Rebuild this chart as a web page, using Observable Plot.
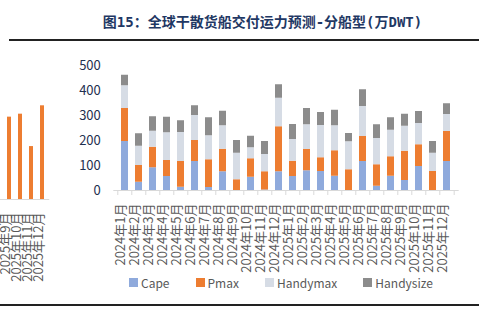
<!DOCTYPE html>
<html>
<head>
<meta charset="utf-8">
<script src="https://cdn.jsdelivr.net/npm/d3@7"></script>
<script src="https://cdn.jsdelivr.net/npm/@observablehq/plot@0.6"></script>
<style>
  html, body { margin: 0; padding: 0; background: #fff; }
  body { width: 479px; height: 332px; overflow: hidden; position: relative; font-family: "Noto Sans CJK SC", "Noto Sans", sans-serif; }
  #title { position: absolute; top: 11px; left: 0; width: 525px; text-align: center; font-family: "DejaVu Sans Mono", "Noto Sans CJK SC", monospace; font-size: 14px; font-weight: bold; color: #1f3864; white-space: nowrap; }
  .hline { position: absolute; left: 0; right: 0; height: 1.5px; background: #222; }
  #left { position: absolute; left: -15px; top: 0; }
  #main { position: absolute; left: 0; top: 0; }
  #legend { position: absolute; top: 274px; left: 129px; display: flex; align-items: center; font-size: 12px; color: #595959; white-space: nowrap; }
  .item { display: flex; align-items: center; margin-right: 26px; }
  .sw { width: 9px; height: 9px; margin-right: 3px; }
</style>
</head>
<body>
<div id="title">图15：全球干散货船交付运力预测-分船型(万DWT)</div>
<div class="hline" style="top:39px; left:9px;"></div>
<div id="left"></div>
<div id="main"></div>
<div id="legend"></div>
<div class="hline" style="top:304px;"></div>
<script>
const months = ["2024年1月","2024年2月","2024年3月","2024年4月","2024年5月","2024年6月","2024年7月","2024年8月","2024年9月","2024年10月","2024年11月","2024年12月",
                "2025年1月","2025年2月","2025年3月","2025年4月","2025年5月","2025年6月","2025年7月","2025年8月","2025年9月","2025年10月","2025年11月","2025年12月"];
const cape      = [196, 33, 91, 56, 13,116, 12, 75,  0, 53,  2, 75,  56, 79, 76, 57,  0,116, 17, 57, 40, 96,  0,116];
const pmax      = [132, 67, 82, 64,103, 84,111, 90, 43, 74, 73,180,  61, 85, 55,102, 83,100, 86, 78,117, 87, 76,120];
const handymax  = [ 91, 77, 64,111,116,100, 96, 94,106, 44, 69,114,  87, 99,129,100,112,120,105,106,100, 85, 73, 68];
const handysize = [ 42, 50, 58, 62, 47, 39, 72, 58, 51, 46, 52, 54,  60, 65, 52, 62, 33, 67, 55, 50, 48, 48, 47, 43];
const types = ["Cape","Pmax","Handymax","Handysize"];
const colors = ["#8faadc","#ed7d31","#d6dce5","#8c8c8c"];
const yTicks = [0,100,200,300,400,500];

// partial neighbouring chart (total deliveries), cut at the left edge
const leftMonths = ["2025年8月","2025年9月","2025年10月","2025年11月","2025年12月"];
const leftTotals = [291, 305, 316, 196, 347];

const series = [cape, pmax, handymax, handysize];
const data = [];
months.forEach((m, i) => types.forEach((t, j) => data.push({month: m, type: t, value: series[j][i]})));

const W = 479, H = 300;
const step = (458.7 - 113.3) / months.length;

const main = Plot.plot({
  width: W, height: H,
  marginTop: 65, marginBottom: H - 190, marginLeft: 113.3, marginRight: W - 458.7,
  style: {background: "transparent", color: "#1f3050", fontFamily: "Noto Sans CJK SC, Noto Sans, sans-serif", overflow: "visible"},
  x: {domain: months, paddingInner: 0.5, paddingOuter: 0.25, axis: null},
  y: {domain: [0, 500], axis: null},
  color: {domain: types, range: colors},
  marks: [
    Plot.barY(data, {x: "month", y: "value", fill: "type", order: types}),
    Plot.ruleY([0], {stroke: "#d9d9d9", strokeWidth: 1}),
    Plot.ruleX(months, {x: d => d, dx: -step / 2, y1: 0, y2: -20, stroke: "#d9d9d9"}),
    Plot.ruleX([months[months.length - 1]], {x: d => d, dx: step / 2, y1: 0, y2: -20, stroke: "#d9d9d9"}),
    Plot.axisY({ticks: yTicks, tickSize: 0, tickPadding: 13, fontSize: 13, label: null}),
    Plot.text(months, {x: d => d, text: d => d, frameAnchor: "bottom", rotate: -90, textAnchor: "end", dy: 13, fontSize: 13, fill: "#595959"})
  ]
});
document.getElementById("main").appendChild(main);

const LW = 80;
const left = Plot.plot({
  width: LW, height: H,
  marginTop: 199 - 135, marginBottom: H - 199, marginLeft: 5.75, marginRight: LW - 5.75 - 58.5,
  style: {background: "transparent", fontFamily: "Noto Sans CJK SC, Noto Sans, sans-serif", overflow: "visible"},
  x: {domain: leftMonths, paddingInner: 0.6, paddingOuter: 0.3, axis: null},
  y: {domain: [0, 500], axis: null},
  marks: [
    Plot.barY(leftMonths.map((m, i) => ({month: m, value: leftTotals[i]})), {x: "month", y: "value", fill: "#ed7d31"}),
    Plot.ruleY([0], {stroke: "#d9d9d9"}),
    Plot.text(leftMonths, {x: d => d, text: d => d, frameAnchor: "bottom", rotate: -90, textAnchor: "end", dy: 13, fontSize: 13, fill: "#595959"})
  ]
});
document.getElementById("left").appendChild(left);

const legend = document.getElementById("legend");
types.forEach((t, i) => {
  const item = document.createElement("div");
  item.className = "item";
  const sw = document.createElement("span");
  sw.className = "sw";
  sw.style.background = colors[i];
  const lab = document.createElement("span");
  lab.textContent = t;
  item.appendChild(sw); item.appendChild(lab);
  legend.appendChild(item);
});
</script>
</body>
</html>
